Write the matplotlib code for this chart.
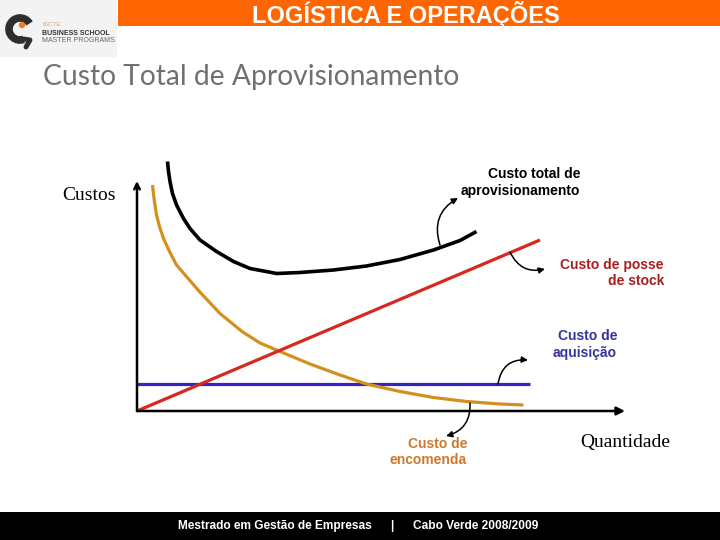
import matplotlib
matplotlib.use("Agg")
import matplotlib.pyplot as plt
from matplotlib.patches import Rectangle, Circle, Arc

# ── Data (schematic units) ───────────────────────────────────────────────────
total_q = [6.1, 6.3, 6.6, 7.1, 7.9, 9.3, 10.6, 12.6, 15.9, 19.3, 22.6, 26.9,
           27.9, 32.6, 39.3, 45.9, 52.6, 59.3, 64.6, 67.9]
total_c = [49.9, 47.9, 45.9, 43.5, 41.2, 38.5, 36.5, 34.2, 31.9, 29.9, 28.5,
           27.7, 27.5, 27.7, 28.2, 29.0, 30.3, 32.2, 34.1, 35.9]

order_q = [3.1, 3.4, 3.9, 4.5, 5.3, 6.5, 7.9, 12.3, 16.6, 21.0, 24.6, 28.6,
           34.6, 40.6, 45.9, 52.6, 59.3, 65.9, 72.6, 77.3]
order_c = [45.2, 42.5, 39.2, 36.9, 34.5, 31.9, 29.2, 24.1, 19.5, 15.9, 13.6,
           11.9, 9.4, 7.2, 5.4, 3.9, 2.7, 1.9, 1.4, 1.2]

holding_q = [0, 80.6]
holding_c = [0, 34.2]

acq_q = [0, 78.5]
acq_c = [5.4, 5.4]

# ── Colours ──────────────────────────────────────────────────────────────────
ORANGE_BAR = "#FF6600"
C_TOTAL = "black"
C_ORDER = "#D4901E"
C_HOLD = "#D6281E"
C_ACQ = "#3A22C0"

fig = plt.figure(figsize=(7.2, 5.4), dpi=100)

# background layer in pixel coordinates (slide decoration)
bg = fig.add_axes([0, 0, 1, 1], zorder=0)
bg.set_xlim(0, 720)
bg.set_ylim(540, 0)
bg.axis("off")

bg.add_patch(Rectangle((118, 0), 602, 26, color=ORANGE_BAR, lw=0))
bg.text(406, 14, "LOGÍSTICA E OPERAÇÕES", color="white", fontsize=17,
        fontweight="bold", family="Liberation Sans", ha="center", va="center")

# logo
bg.add_patch(Rectangle((0, 0), 117, 57, color="#F3F3F3", lw=0))
bg.add_patch(Arc((20, 29), 22, 22, theta1=70, theta2=330, lw=5.5,
                 color="#2E2E2E"))
bg.plot([24, 30, 26], [39, 40, 47], color="#2E2E2E", lw=3.5,
        solid_capstyle="round")
bg.add_patch(Circle((22, 25), 3.2, color="#E8822A", lw=0))
bg.text(42, 25, "ISCTE", fontsize=4.5, color="#E0A070", va="center",
        family="Liberation Sans")
bg.text(42, 33.5, "BUSINESS SCHOOL", fontsize=5, color="#333333",
        fontweight="bold", va="center", family="Liberation Sans")
bg.text(42, 41, "MASTER PROGRAMS", fontsize=5, color="#666666", va="center",
        family="Liberation Sans")

bg.text(43, 85, "Custo Total de Aprovisionamento", fontsize=20.3,
        color="#707070", family="Lato", ha="left", va="baseline")

# footer
bg.add_patch(Rectangle((0, 512), 720, 28, color="black", lw=0))
foot = dict(color="white", fontsize=8.6, fontweight="bold",
            family="Liberation Sans", va="center")
bg.text(178, 526, "Mestrado em Gestão de Empresas", ha="left", **foot)
bg.text(392, 526, "|", ha="center", **foot)
bg.text(413, 526, "Cabo Verde 2008/2009", ha="left", **foot)

# ── Chart ────────────────────────────────────────────────────────────────────
ax = fig.add_axes([137 / 720, 129 / 540, 500 / 720, 255 / 540], zorder=1)
ax.set_xlim(0, 100)
ax.set_ylim(0, 51)
ax.patch.set_alpha(0)
ax.axis("off")

line_kw = dict(lw=2.3, solid_capstyle="butt", solid_joinstyle="round",
               clip_on=False)
ax.plot(acq_q, acq_c, color=C_ACQ, **line_kw)
ax.plot(order_q, order_c, color=C_ORDER, **line_kw)
ax.plot(holding_q, holding_c, color=C_HOLD, **line_kw)
ax.plot(total_q, total_c, color=C_TOTAL, lw=2.6, solid_capstyle="butt",
        solid_joinstyle="round", clip_on=False)

# axes with arrows
ax.annotate("", xy=(97.6, 0), xytext=(0, 0), annotation_clip=False,
            arrowprops=dict(arrowstyle="-|>", lw=1.8, color="black",
                            mutation_scale=12, shrinkA=0, shrinkB=0))
ax.annotate("", xy=(0, 46), xytext=(0, 0), annotation_clip=False,
            arrowprops=dict(arrowstyle="->", lw=1.8, color="black",
                            mutation_scale=10, shrinkA=0, shrinkB=0))

# pointer arrows from curves to labels
def pointer(start, tip, rad):
    ax.annotate("", xy=tip, xytext=start, annotation_clip=False,
                arrowprops=dict(arrowstyle="-|>", lw=1.1, color="black",
                                mutation_scale=9, shrinkA=0, shrinkB=0,
                                connectionstyle=f"arc3,rad={rad}"))

pointer((60.6, 33.2), (64.2, 42.6), -0.4)
pointer((74.6, 31.8), (81.6, 28.4), 0.4)
pointer((72.2, 5.4), (78.2, 10.2), -0.45)
pointer((66.6, 1.6), (61.8, -5.0), -0.4)

lab = dict(fontsize=10, fontweight="bold", family="Liberation Sans",
           ha="right", va="center", linespacing=1.25)
ax.text(88.6, 45.7, "Custo total de\naprovisionamento", color="black", **lab)
ax.text(105.4, 27.6, "Custo de posse\nde stock", color="#A81E1E", **lab)
ax.text(96.0, 13.3, "Custo de\naquisição", color="#34349A", **lab)
ax.text(66.0, -8.2, "Custo de\nencomenda", color="#CC7A2A", **lab)

ax.text(-15.0, 43.2, "Custos", fontsize=14, family="Liberation Serif",
        ha="left", va="center")
ax.text(88.6, -6.4, "Quantidade", fontsize=14, family="Liberation Serif",
        ha="left", va="center")

fig.savefig("out.png", dpi=100)
